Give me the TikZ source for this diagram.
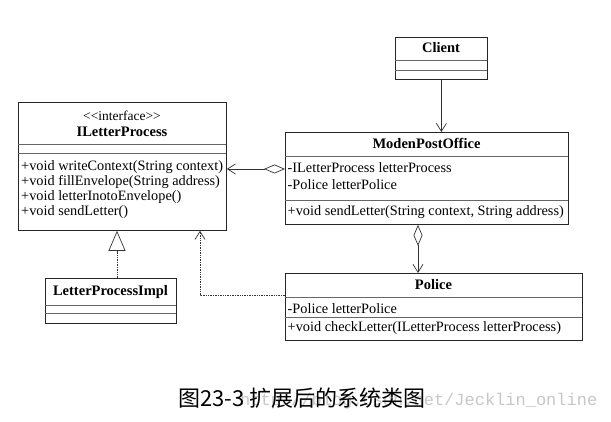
\documentclass[tikz,border=0pt]{standalone}
\usepackage{fontspec}
\setmainfont{Liberation Serif}
\newfontfamily\cjkfont{Noto Sans CJK SC}
\newfontfamily\wmfont{Liberation Mono}
\usetikzlibrary{arrows.meta,calc}
\tikzset{
  umlbox/.style={draw=black!85, line width=0.8pt, anchor=north west, inner sep=0pt},
  divider/.style={draw=black!60, line width=0.7pt},
  member/.style={anchor=west, inner sep=0pt, font=\fontsize{14.3}{16}\selectfont},
  cname/.style={inner sep=0pt, font=\fontsize{14.5}{16}\selectfont\bfseries},
  stereo/.style={inner sep=0pt, font=\fontsize{13.5}{15}\selectfont},
  conn/.style={draw=black!80, line width=0.7pt},
  openarrow/.style={-{Straight Barb[length=8pt,width=10pt]}},
  aggr/.style={{Diamond[open,length=21pt,width=9pt]}-{Straight Barb[length=8pt,width=10pt]}},
  realize/.style={densely dotted, -{Triangle[open,length=20pt,width=17pt]}},
  depend/.style={densely dotted, -{Straight Barb[length=8pt,width=10pt]}},
}
\begin{document}
\begin{tikzpicture}[x=1pt,y=-1pt]
\useasboundingbox[fill=white] (0,0) rectangle (611,422);

% Client
\node[umlbox, minimum width=92pt, minimum height=42pt] (client) at (395,37) {};
\node[cname] (clientname) at (441,48) {Client};
\draw[divider] (395,60) -- (487,60);
\draw[divider] (395,70) -- (487,70);

% ILetterProcess
\node[umlbox, minimum width=208pt, minimum height=128pt] (ilp) at (18,102) {};
\node[stereo] (ilpst) at (122,116) {<{}<interface>{}>};
\node[cname] (ilpname) at (122,132) {ILetterProcess};
\draw[divider] (18,144) -- (226,144);
\draw[divider] (18,153) -- (226,153);
\node[member] (m1) at (21,167) {+void writeContext(String context)};
\node[member] (m2) at (21,182) {+void fillEnvelope(String address)};
\node[member] (m3) at (21,197) {+void letterInotoEnvelope()};
\node[member] (m4) at (21,212) {+void sendLetter()};

% ModenPostOffice
\node[umlbox, minimum width=283pt, minimum height=92pt] (mpo) at (285,132) {};
\node[cname] (mponame) at (426.5,143) {ModenPostOffice};
\draw[divider] (285,156) -- (568,156);
\draw[divider] (285,200) -- (568,200);
\node[member] (a1) at (287.5,168) {-ILetterProcess letterProcess};
\node[member] (a2) at (287.5,185) {-Police letterPolice};
\node[member] (a3) at (287.5,212) {+void sendLetter(String context, String address)};

% Police
\node[umlbox, minimum width=297pt, minimum height=67pt] (police) at (285,273) {};
\node[cname] (policename) at (433.5,285) {Police};
\draw[divider] (285,297) -- (582,297);
\draw[divider] (285,317) -- (582,317);
\node[member] (p1) at (287.5,309) {-Police letterPolice};
\node[member] (p2) at (287.5,328) {+void checkLetter(ILetterProcess letterProcess)};

% LetterProcessImpl
\node[umlbox, minimum width=131pt, minimum height=45pt] (lpi) at (45,278) {};
\node[cname] (lpiname) at (110.5,292) {LetterProcessImpl};
\draw[divider] (45,305) -- (176,305);
\draw[divider] (45,313) -- (176,313);

% Connectors
\draw[conn, openarrow] (client.south) -- (client.south |- mpo.north);
\coordinate (aggstart) at ([yshift=-37pt]mpo.north west);
\draw[conn, aggr] (aggstart) -- (ilp.east |- aggstart);
\coordinate (agg2start) at ([xshift=133pt]mpo.south west);
\draw[conn, aggr] (agg2start) -- (agg2start |- police.north);
\coordinate (realstart) at ([xshift=72pt]lpi.north west);
\draw[conn, realize] (realstart) -- (realstart |- ilp.south);
\coordinate (depstart) at ([yshift=-22pt]police.north west);
\coordinate (depend) at ([xshift=182pt]ilp.south west);
\draw[conn, depend] (depstart) -| (depend);

% Watermark and caption
\node[anchor=west, inner sep=0pt, text=black!22, font=\wmfont\fontsize{17}{19}\selectfont] (wm) at (240,401) {http://blog.csdn.net/Jecklin\_online};
\node[anchor=west, inner sep=0pt, font=\cjkfont\fontsize{22}{24}\selectfont] (caption) at (178,398) {图23-3 扩展后的系统类图};
\end{tikzpicture}
\end{document}
